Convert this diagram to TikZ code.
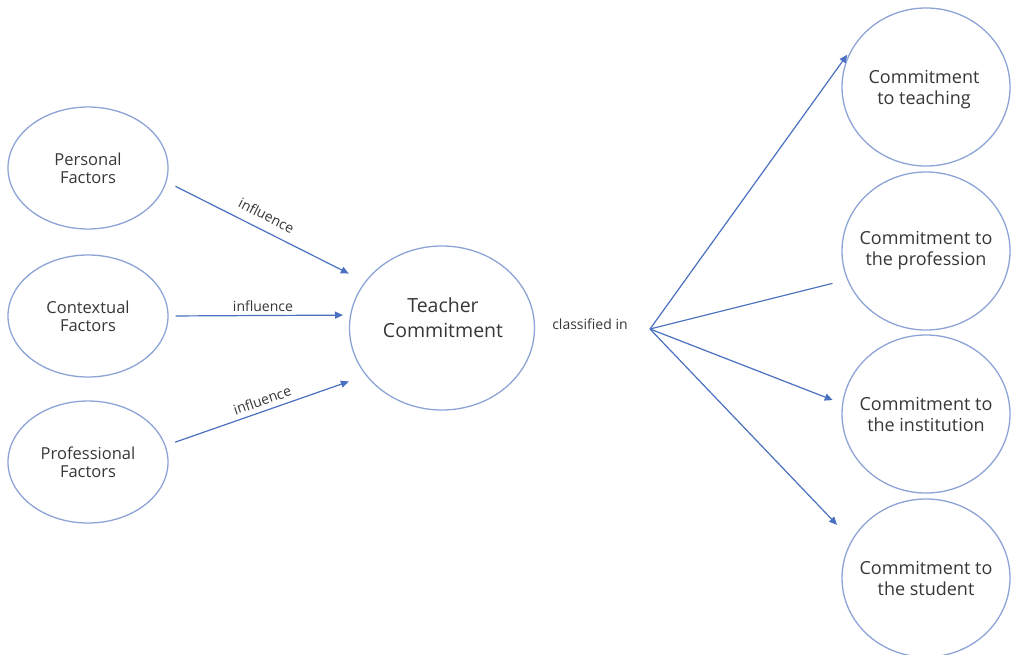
\documentclass[tikz,border=0pt]{standalone}
\usepackage{fontspec}
\setmainfont{Open Sans}
\usetikzlibrary{arrows.meta,shapes.geometric}
\definecolor{ringblue}{RGB}{141,163,214}
\definecolor{lineblue}{RGB}{74,112,192}
\definecolor{inkgray}{RGB}{55,55,55}
\tikzset{
  factor/.style={ellipse,draw=ringblue,line width=1.3pt,minimum width=160pt,minimum height=122pt,inner sep=0pt,align=center,text=inkgray,font=\fontsize{16.5}{18}\selectfont},
  core/.style={ellipse,draw=ringblue,line width=1.3pt,minimum width=185pt,minimum height=164pt,inner sep=0pt,align=center,text=inkgray,font=\fontsize{19.5}{25}\selectfont},
  kind/.style={ellipse,draw=ringblue,line width=1.3pt,minimum width=168pt,minimum height=158pt,inner ysep=0pt,inner xsep=-12pt,align=center,text=inkgray,font=\fontsize{18}{21}\selectfont},
  link/.style={draw=lineblue,line width=1.2pt,-{Triangle[width=7pt,length=8pt]}},
  tag/.style={text=inkgray,font=\fontsize{14}{16}\selectfont,inner sep=1pt}
}
\begin{document}
\begin{tikzpicture}[x=1pt,y=-1pt]
\useasboundingbox (0,0) rectangle (1011,655);
\node[factor] (personal) at (88,168) {Personal\\Factors};
\node[factor] (contextual) at (88,316) {Contextual\\Factors};
\node[factor] (professional) at (88,462) {Professional\\Factors};
\node[core] (teacher) at (442,328) {};
\node[text=inkgray,align=center,font=\fontsize{19.5}{25}\selectfont] (teachertext) at (443,318) {Teacher\\Commitment};
\node[kind] (teaching) at (926,87) {};
\node[text=inkgray,align=center,font=\fontsize{18}{21}\selectfont] (teachingtext) at (924,90) {Commitment\\to teaching};
\node[kind] (profession) at (926,251) {Commitment to\\the profession};
\node[kind] (institution) at (926,414) {Commitment to\\the institution};
\node[kind] (student) at (926,578) {Commitment to\\the student};
\node[tag] (classified) at (590,324) {classified in};
\coordinate (split) at (650,329);
\draw[link,shorten <=10pt,shorten >=18pt] (personal.-10) -- node[tag,sloped,above=8pt,pos=0.47] {influence} (teacher.149);
\draw[link,shorten <=7pt,shorten >=7pt] (contextual.east) -- node[tag,above=2pt,pos=0.52] {influence} (teacher.172);
\draw[link,shorten <=10pt,shorten >=18pt] (professional.12) -- node[tag,sloped,above=4pt,pos=0.5] {influence} (teacher.212);
\draw[link,shorten >=10pt] (split) -- (teaching.151);
\draw[draw=lineblue,line width=1.2pt,shorten >=15pt] (split) -- (profession.200);
\draw[link,shorten >=10pt] (split) -- (institution.173);
\draw[link,shorten >=21pt] (split) -- (student.153);
\end{tikzpicture}
\end{document}
